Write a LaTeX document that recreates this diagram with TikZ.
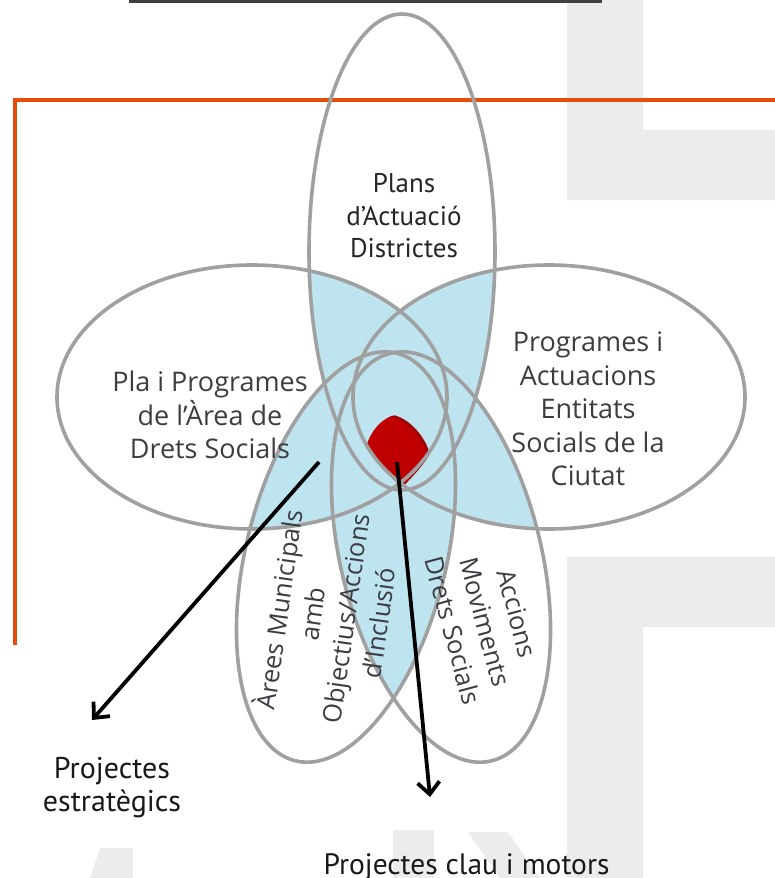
\documentclass[tikz,border=0pt]{standalone}
\usepackage{fontspec}
\setmainfont{Open Sans}
\newfontfamily\ptsans{PT Sans}
\usetikzlibrary{arrows.meta}
\definecolor{ellgrey}{RGB}{160,160,160}
\definecolor{wmgrey}{RGB}{236,236,236}
\definecolor{orangeline}{RGB}{228,76,10}
\definecolor{dotblue}{RGB}{190,228,239}
\definecolor{redc}{RGB}{192,0,0}
\definecolor{txtc}{RGB}{60,60,66}
\newcommand\pathT{(402,252) ellipse [x radius=93pt, y radius=238pt]}
\newcommand\pathL{(252,397) ellipse [x radius=195pt, y radius=132pt]}
\newcommand\pathR{(549,397) ellipse [x radius=196pt, y radius=132pt]}
\newcommand\pathLL{(346,557) ellipse [x radius=210pt, y radius=100pt]}
\newcommand\pathLR{(441,557) ellipse [x radius=210pt, y radius=100pt]}
\begin{document}
\begin{tikzpicture}[x=1pt,y=-1pt,
  rT/.style={}, rL/.style={}, rR/.style={},
  rLL/.style={rotate around={76:(346,557)}},
  rLR/.style={rotate around={104:(441,557)}},
  ellline/.style={draw=ellgrey, line width=3.6pt},
  dotfill/.style={fill=dotblue},
  lbl/.style={text=txtc, align=center, inner sep=0pt},
  blk/.style={text=black!90, align=center, inner sep=0pt, font=\ptsans},
  arr/.style={line width=3.8pt, -{Straight Barb[length=12pt,width=22pt]}}]
\useasboundingbox (0,0) rectangle (775,878);
% watermark shapes
\fill[wmgrey] (567,0) -- (643,0) -- (643,130) -- (775,130) -- (775,200) -- (567,200) -- cycle;
\fill[wmgrey] (567,878) -- (567,557) -- (775,557) -- (775,627) -- (643,627) -- (643,878) -- cycle;
\fill[wmgrey] (393,830) rectangle (434,878);
\fill[wmgrey] (468,832) -- (508,832) -- (540,878) -- (500,878) -- cycle;
\fill[wmgrey] (100,848) -- (133,848) -- (133,878) -- (90,878) -- cycle;
% top bar
\fill[black!75] (129,0) rectangle (602,3);
% orange frame
\draw[orangeline, line width=3.5pt] (15,645) -- (15,100) -- (775,100);
% pairwise overlaps
\newcommand\pairfill[4]{\begin{scope}\clip[#1] #2; \fill[dotfill,#3] #4; \end{scope}}
\pairfill{rT}{\pathT}{rL}{\pathL}
\pairfill{rT}{\pathT}{rR}{\pathR}
\pairfill{rT}{\pathT}{rLL}{\pathLL}
\pairfill{rT}{\pathT}{rLR}{\pathLR}
\pairfill{rL}{\pathL}{rR}{\pathR}
\pairfill{rL}{\pathL}{rLL}{\pathLL}
\pairfill{rL}{\pathL}{rLR}{\pathLR}
\pairfill{rR}{\pathR}{rLL}{\pathLL}
\pairfill{rR}{\pathR}{rLR}{\pathLR}
\pairfill{rLL}{\pathLL}{rLR}{\pathLR}
% red centre
\fill[redc!85!black, shift={(3,-2)}] (391.7,417.3) .. controls (382,418) and (370,432) .. (366,447) .. controls (374,460) and (390,477) .. (401.7,486.7) .. controls (410,478) and (420,468) .. (426.7,456) .. controls (423,440) and (408,422) .. cycle;
\fill[redc] (391.7,417.3) .. controls (382,418) and (370,432) .. (366,447) .. controls (374,460) and (390,477) .. (401.7,486.7) .. controls (410,478) and (420,468) .. (426.7,456) .. controls (423,440) and (408,422) .. cycle;
% ellipse outlines
\draw[ellline,rT] \pathT;
\draw[ellline,rL] \pathL;
\draw[ellline,rR] \pathR;
\draw[ellline,rLL] \pathLL;
\draw[ellline,rLR] \pathLR;
% labels
\node[blk, text=black!85, font=\ptsans\fontsize{27}{32.5}\selectfont] (plans) at (404,216) {Plans\\d’Actuació\\Districtes};
\node[lbl, font=\fontsize{27}{33.5}\selectfont] (pla) at (210,415) {Pla i Programes\\de l’Àrea de\\Drets Socials};
\node[lbl, font=\fontsize{27}{33.5}\selectfont] (prog) at (588,409) {Programes i\\Actuacions\\Entitats\\Socials de la\\Ciutat};
\node[lbl, rotate=82, font=\fontsize{25.5}{33.5}\selectfont] (arees) at (327,616) {Àrees Municipals\\amb\\Objectius/Accions\\d’Inclusió};
\node[lbl, rotate=-75, font=\fontsize{25.5}{33.5}\selectfont] (accions) at (485,622) {Accions\\Moviments\\Drets Socials};
\node[blk, font=\ptsans\fontsize{30}{33}\selectfont] (pest) at (112,788) {Projectes\\estratègics};
\node[blk, anchor=base, font=\ptsans\fontsize{29.5}{33}\selectfont] (pclau) at (466.5,874) {Projectes clau i motors};
% arrows
\coordinate (a1s) at (319,462);
\coordinate (a1e) at (92,720);
\coordinate (a2s) at (397,462);
\coordinate (a2e) at (430,797);
\draw[arr] (a1s) -- (a1e);
\draw[arr] (a2s) -- (a2e);
\end{tikzpicture}
\end{document}
